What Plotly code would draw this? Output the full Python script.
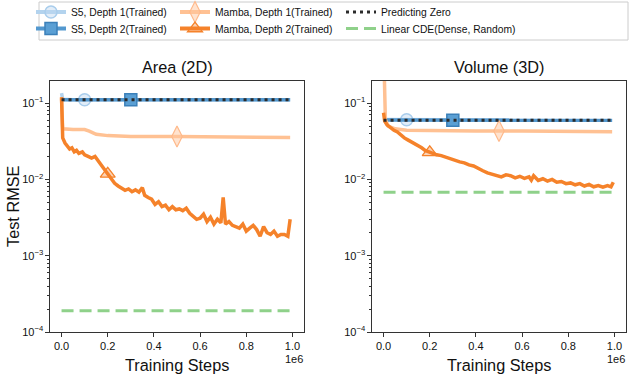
import numpy as np
import plotly.graph_objects as go
from plotly.subplots import make_subplots

# training steps are in units of 1e6
panel_titles = ["Area (2D)", "Volume (3D)"]

# ---- Area (2D) ----
area_s5_d1_x = [0.0, 0.005, 0.05, 0.5, 0.99]
area_s5_d1_y = [0.135, 0.112, 0.111, 0.111, 0.111]
area_s5_d2_x = [0.0, 0.005, 0.5, 0.99]
area_s5_d2_y = [0.113, 0.111, 0.111, 0.111]
area_m_d1_x = [0.0, 0.005, 0.05, 0.1, 0.12, 0.15, 0.2, 0.3, 0.5, 0.7, 0.99]
area_m_d1_y = [0.115, 0.046, 0.045, 0.045, 0.043, 0.039, 0.0375, 0.0365, 0.0365, 0.036, 0.0355]
area_m_d2_x = [0.0, 0.005, 0.015, 0.025, 0.035, 0.045, 0.055, 0.065, 0.075, 0.09,
               0.1, 0.115, 0.13, 0.145, 0.16, 0.175, 0.19, 0.2, 0.215, 0.23,
               0.245, 0.26, 0.275, 0.29, 0.305, 0.32, 0.335, 0.35, 0.36, 0.375,
               0.39, 0.405, 0.42, 0.435, 0.45, 0.465, 0.48, 0.495, 0.51, 0.525,
               0.54, 0.555, 0.57, 0.585, 0.6, 0.615, 0.63, 0.645, 0.66, 0.675,
               0.69, 0.70, 0.71, 0.725, 0.74, 0.755, 0.77, 0.785, 0.80, 0.815,
               0.83, 0.845, 0.86, 0.875, 0.89, 0.905, 0.92, 0.935, 0.95, 0.965,
               0.98, 0.99]
area_m_d2_y = [0.12, 0.035, 0.030, 0.027, 0.025, 0.026, 0.023, 0.024, 0.022, 0.023,
               0.021, 0.020, 0.019, 0.020, 0.017, 0.015, 0.013, 0.0118, 0.010, 0.0089,
               0.0082, 0.0076, 0.0072, 0.0075, 0.0069, 0.0073, 0.0068, 0.0078, 0.0062, 0.0058,
               0.0055, 0.0047, 0.0051, 0.0044, 0.0046, 0.0040, 0.0044, 0.0040, 0.0041, 0.0039,
               0.0042, 0.0036, 0.0033, 0.0030, 0.0031, 0.0035, 0.0028, 0.0032, 0.0026, 0.0030,
               0.0027, 0.0058, 0.0026, 0.0028, 0.0025, 0.0024, 0.0023, 0.0026, 0.0021, 0.0023,
               0.0025, 0.0022, 0.0018, 0.0024, 0.0020, 0.0019, 0.0021, 0.0018, 0.0019, 0.0019,
               0.0018, 0.0030]
area_zero = 0.111
area_cde = 0.00019

# ---- Volume (3D) ----
vol_s5_d1_x = [0.0, 0.5, 0.99]
vol_s5_d1_y = [0.061, 0.0595, 0.0595]
vol_s5_d2_x = [0.0, 0.5, 0.99]
vol_s5_d2_y = [0.060, 0.0595, 0.0595]
vol_m_d1_x = [0.0, 0.008, 0.02, 0.05, 0.1, 0.2, 0.4, 0.6, 0.8, 0.99]
vol_m_d1_y = [0.6, 0.06, 0.05, 0.046, 0.044, 0.0435, 0.043, 0.043, 0.0425, 0.042]
vol_m_d2_x = [0.0, 0.005, 0.015, 0.03, 0.045, 0.06, 0.075, 0.09, 0.105, 0.12,
              0.135, 0.15, 0.165, 0.18, 0.195, 0.21, 0.23, 0.25, 0.27, 0.29,
              0.31, 0.33, 0.35, 0.37, 0.39, 0.41, 0.43, 0.45, 0.47, 0.49,
              0.51, 0.53, 0.55, 0.57, 0.59, 0.61, 0.63, 0.64, 0.65, 0.67,
              0.69, 0.71, 0.73, 0.75, 0.77, 0.79, 0.81, 0.83, 0.85, 0.87,
              0.89, 0.91, 0.93, 0.95, 0.97, 0.985, 0.995]
vol_m_d2_y = [0.075, 0.058, 0.052, 0.048, 0.044, 0.042, 0.038, 0.035, 0.033, 0.031,
              0.030, 0.028, 0.026, 0.024, 0.023, 0.022, 0.021, 0.0205, 0.0195, 0.019,
              0.0178, 0.017, 0.0165, 0.0155, 0.015, 0.0138, 0.013, 0.0122, 0.0118, 0.0112,
              0.0108, 0.0115, 0.0112, 0.0105, 0.0110, 0.0103, 0.0108, 0.0098, 0.0112, 0.0097,
              0.0102, 0.0095, 0.0100, 0.0092, 0.0094, 0.0088, 0.0090, 0.0085, 0.0088, 0.0082,
              0.0086, 0.0080, 0.0083, 0.0079, 0.0083, 0.0080, 0.0092]
vol_zero = 0.0595
vol_cde = 0.0068

ref_x = [0.0, 0.99]          # extent of the flat reference lines
marker_at = {"s5_d1": 0.1, "s5_d2": 0.3, "m_d1": 0.5, "m_d2": 0.2}

panels = [
    {"s5_d1": (area_s5_d1_x, area_s5_d1_y), "s5_d2": (area_s5_d2_x, area_s5_d2_y),
     "m_d1": (area_m_d1_x, area_m_d1_y), "m_d2": (area_m_d2_x, area_m_d2_y),
     "zero": area_zero, "cde": area_cde},
    {"s5_d1": (vol_s5_d1_x, vol_s5_d1_y), "s5_d2": (vol_s5_d2_x, vol_s5_d2_y),
     "m_d1": (vol_m_d1_x, vol_m_d1_y), "m_d2": (vol_m_d2_x, vol_m_d2_y),
     "zero": vol_zero, "cde": vol_cde},
]

styles = {
    "s5_d1": dict(name="S5, Depth 1(Trained)", color="#b3d3ee", legend="legend",
                  marker=dict(symbol="circle", size=12, color="rgba(190,216,240,0.45)",
                              line=dict(color="#a9cdec", width=1.5))),
    "s5_d2": dict(name="S5, Depth 2(Trained)", color="#5398cf", legend="legend2",
                  marker=dict(symbol="square", size=12, color="#5a9fd4",
                              line=dict(color="#3b80b9", width=1.5))),
    "m_d1": dict(name="Mamba, Depth 1(Trained)", color="#ffc193", legend="legend3",
                 marker=dict(symbol="diamond-tall", size=15, color="rgba(255,200,160,0.5)",
                             line=dict(color="#ffb98a", width=1.2))),
    "m_d2": dict(name="Mamba, Depth 2(Trained)", color="#f5822a", legend="legend4",
                 marker=dict(symbol="triangle-up", size=13, color="rgba(245,130,42,0.35)",
                             line=dict(color="#f5822a", width=1.3))),
}

FONT = "Liberation Sans, Arial, sans-serif"

fig = make_subplots(rows=1, cols=2)

for i, pdata in enumerate(panels):
    col = i + 1
    for key in ["s5_d1", "s5_d2", "m_d1", "m_d2"]:
        xs, ys = pdata[key]
        st = styles[key]
        fig.add_trace(go.Scatter(x=xs, y=ys, mode="lines",
                                 line=dict(color=st["color"], width=3.5),
                                 showlegend=False, hoverinfo="skip"), row=1, col=col)
        mx = marker_at[key]
        my = 10 ** np.interp(mx, xs, np.log10(ys))
        fig.add_trace(go.Scatter(x=[mx], y=[my], mode="lines+markers", name=st["name"],
                                 line=dict(color=st["color"], width=4),
                                 marker=st["marker"], legend=st["legend"],
                                 showlegend=(i == 0)), row=1, col=col)
    fig.add_trace(go.Scatter(x=ref_x, y=[pdata["zero"]] * 2, mode="lines",
                             name="Predicting Zero", legend="legend5",
                             line=dict(color="#2b2b2b", width=3, dash="3px,4px"),
                             showlegend=(i == 0)), row=1, col=col)
    fig.add_trace(go.Scatter(x=ref_x, y=[pdata["cde"]] * 2, mode="lines",
                             name="Linear CDE(Dense, Random)", legend="legend6",
                             line=dict(color="#8fd18a", width=3, dash="12px,6px"),
                             showlegend=(i == 0)), row=1, col=col)

W, H = 632, 376
x_domains = [[50 / W, 304 / W], [372 / W, 626 / W]]
y_domain = [1 - 332 / H, 1 - 81 / H]

ytick_vals = [1e-4, 1e-3, 1e-2, 1e-1]
ytick_text = ["10<sup>−4</sup>", "10<sup>−3</sup>", "10<sup>−2</sup>", "10<sup>−1</sup>"]
xtick_vals = [0.0, 0.2, 0.4, 0.6, 0.8, 1.0]

for i in range(2):
    fig.update_xaxes(domain=x_domains[i], range=[-0.05, 1.05], tickvals=xtick_vals,
                     tickformat=".1f", ticks="outside", ticklen=3.5, tickcolor="#333",
                     showline=True, linecolor="#333", linewidth=1.2, mirror=True,
                     showgrid=False, zeroline=False,
                     tickfont=dict(size=11, color="#111", family=FONT),
                     row=1, col=i + 1)
    fig.update_yaxes(domain=y_domain, type="log", range=[-4, -0.71],
                     tickvals=ytick_vals, ticktext=ytick_text,
                     ticks="outside", ticklen=3.5, tickcolor="#333",
                     minor=dict(ticks="outside", ticklen=2, tickcolor="#333", dtick="D1",
                                showgrid=False),
                     showline=True, linecolor="#333", linewidth=1.2, mirror=True,
                     showgrid=False, zeroline=False,
                     tickfont=dict(size=11, color="#111", family=FONT),
                     row=1, col=i + 1)

annotations = []
for i, t in enumerate(panel_titles):
    xc = (x_domains[i][0] + x_domains[i][1]) / 2
    annotations.append(dict(text=t, x=xc, y=1 - 67 / H, xref="paper", yref="paper",
                            xanchor="center", yanchor="middle", showarrow=False,
                            font=dict(size=16.3, family=FONT, color="#111")))
    annotations.append(dict(text="Training Steps", x=xc, y=1 - 365 / H, xref="paper", yref="paper",
                            xanchor="center", yanchor="middle", showarrow=False,
                            font=dict(size=16.3, family=FONT, color="#111")))
    annotations.append(dict(text="1e6", x=x_domains[i][1] - 10 / W, y=1 - 359 / H,
                            xref="paper", yref="paper", xanchor="center", yanchor="middle",
                            showarrow=False, font=dict(size=11, family=FONT, color="#111")))
annotations.append(dict(text="Test RMSE", x=13 / W, y=1 - 206 / H, xref="paper", yref="paper",
                        xanchor="center", yanchor="middle", textangle=-90, showarrow=False,
                        font=dict(size=16.3, family=FONT, color="#111")))

# one single-entry legend per slot, so rows/columns sit where the reference has them
legend_slots = {"legend": (31, 12), "legend2": (31, 28.5),
                "legend3": (175, 12), "legend4": (175, 28.5),
                "legend5": (341, 12), "legend6": (341, 28.5)}
legends = {}
for lname, (lx, ly) in legend_slots.items():
    legends[lname] = dict(orientation="v", x=lx / W, xanchor="left",
                          y=1 - ly / H, yanchor="middle",
                          bgcolor="rgba(0,0,0,0)", borderwidth=0,
                          font=dict(size=10.3, family=FONT, color="#111"))

fig.update_layout(
    width=W, height=H,
    margin=dict(l=0, r=0, t=0, b=0, autoexpand=False),
    paper_bgcolor="white", plot_bgcolor="white",
    font=dict(family=FONT),
    annotations=annotations,
    shapes=[dict(type="rect", xref="paper", yref="paper",
                 x0=39 / W, x1=628 / W, y0=1 - 40 / H, y1=1 - 2 / H,
                 line=dict(color="#cccccc", width=1), fillcolor="rgba(0,0,0,0)")],
    **legends,
)

fig.write_html("out.html", config={"displayModeBar": False},
               post_script="document.body.style.margin='0';")
